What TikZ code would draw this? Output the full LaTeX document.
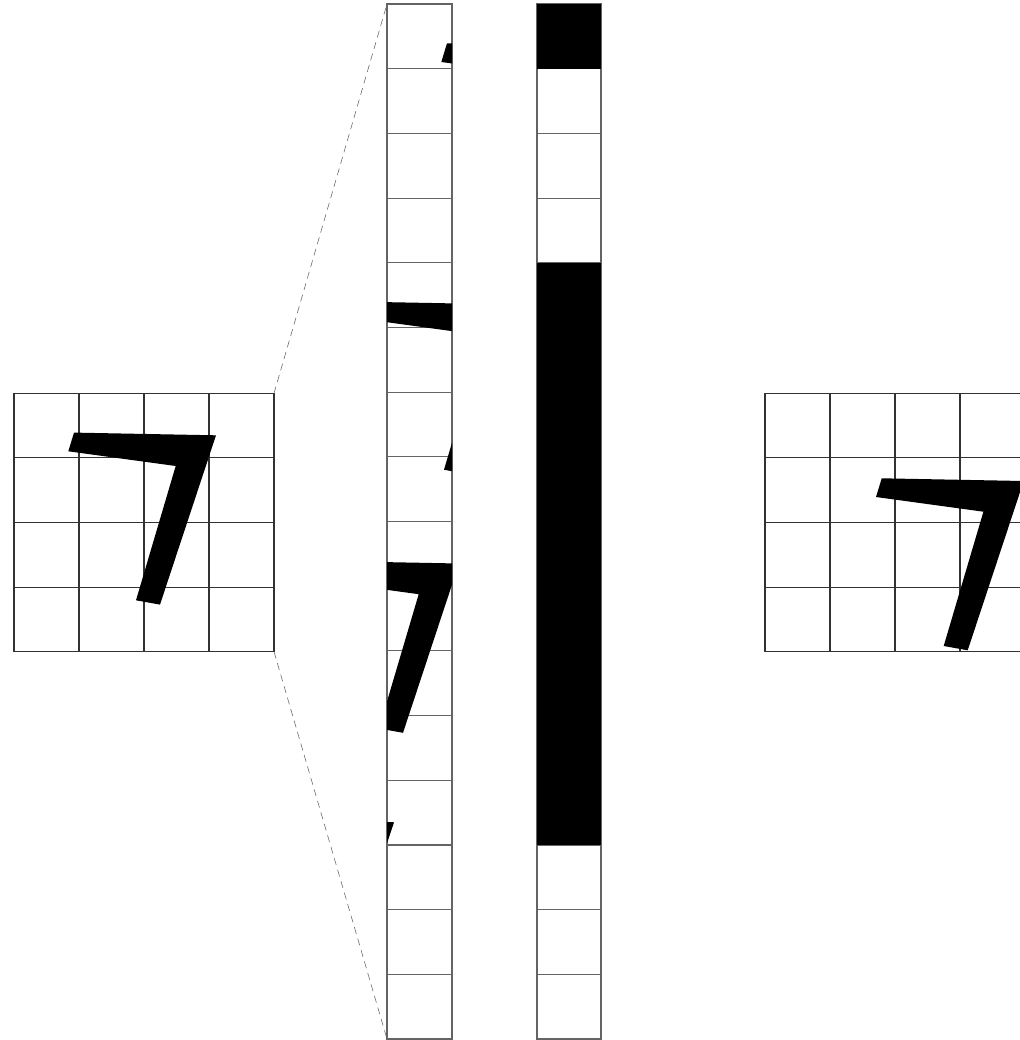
\documentclass[tikz,border=0pt]{standalone}
\usepackage{tikz}
\usetikzlibrary{calc}
\definecolor{gridline}{RGB}{50,50,50}
\definecolor{stripline}{RGB}{100,100,100}
\definecolor{zoomline}{RGB}{100,100,100}
\tikzset{
  cellgrid/.style={draw=gridline, line width=0.75pt},
  stripgrid/.style={draw=stripline, line width=0.75pt},
  onbit/.style={fill=black},
  zoomedge/.style={draw=zoomline, line width=0.4pt, dash pattern=on 5pt off 3.5pt},
  seven/.pic={
    \fill[black] (60,39.3) -- (202,42) -- (146,211.3) -- (122,207)
      -- (161.7,72.7) -- (54.3,58) -- cycle;
  },
}

\begin{document}
\begin{tikzpicture}[x=0.025cm, y=-0.025cm]

\useasboundingbox (0,0) rectangle (1020,1040);
\clip (0,0) rectangle (1020,1040);

% Input image, 4x4 cells
\foreach \i in {0,...,4} {
  \draw[cellgrid] ({14+65*\i},393.3) -- ({14+65*\i},651.7);
  \draw[cellgrid] (14,{393.3+64.6*\i}) -- (274,{393.3+64.6*\i});
}
\pic at (14,393.3) {seven};

% Flattened strip: one grid column after the other
\foreach \k in {1,...,15}
  \draw[stripgrid] (387,{4+64.69*\k}) -- (452,{4+64.69*\k});
\draw[stripgrid] (387,4) rectangle (452,1039);
\foreach \c in {0,...,3} {
  \begin{scope}
    \clip (387,{4+258.75*\c}) rectangle (452,{4+258.75*(\c+1)});
    \pic at ({387-65*\c},{4+258.75*\c}) {seven};
  \end{scope}
}

% Output strip
\foreach \k in {1,...,15}
  \draw[stripgrid] (537,{4+64.69*\k}) -- (601,{4+64.69*\k});
\draw[stripgrid] (537,4) rectangle (601,1039);
\fill[onbit] (537,4) rectangle (601,68.7);
\fill[onbit] (537,262.75) rectangle (601,845);

% Shifted image, 4x4 cells
\foreach \i in {0,...,4} {
  \draw[cellgrid] ({765+65*\i},393.3) -- ({765+65*\i},651.7);
  \draw[cellgrid] (765,{393.3+64.6*\i}) -- (1025,{393.3+64.6*\i});
}
\pic at (821.7,439) {seven};

% Zoom lines
\coordinate (input-ne) at (274,393.3);
\coordinate (input-se) at (274,651.7);
\coordinate (strip-nw) at (387,4);
\coordinate (strip-sw) at (387,1039);
\draw[zoomedge] (input-ne) -- (strip-nw);
\draw[zoomedge] (input-se) -- (strip-sw);

\end{tikzpicture}
\end{document}
